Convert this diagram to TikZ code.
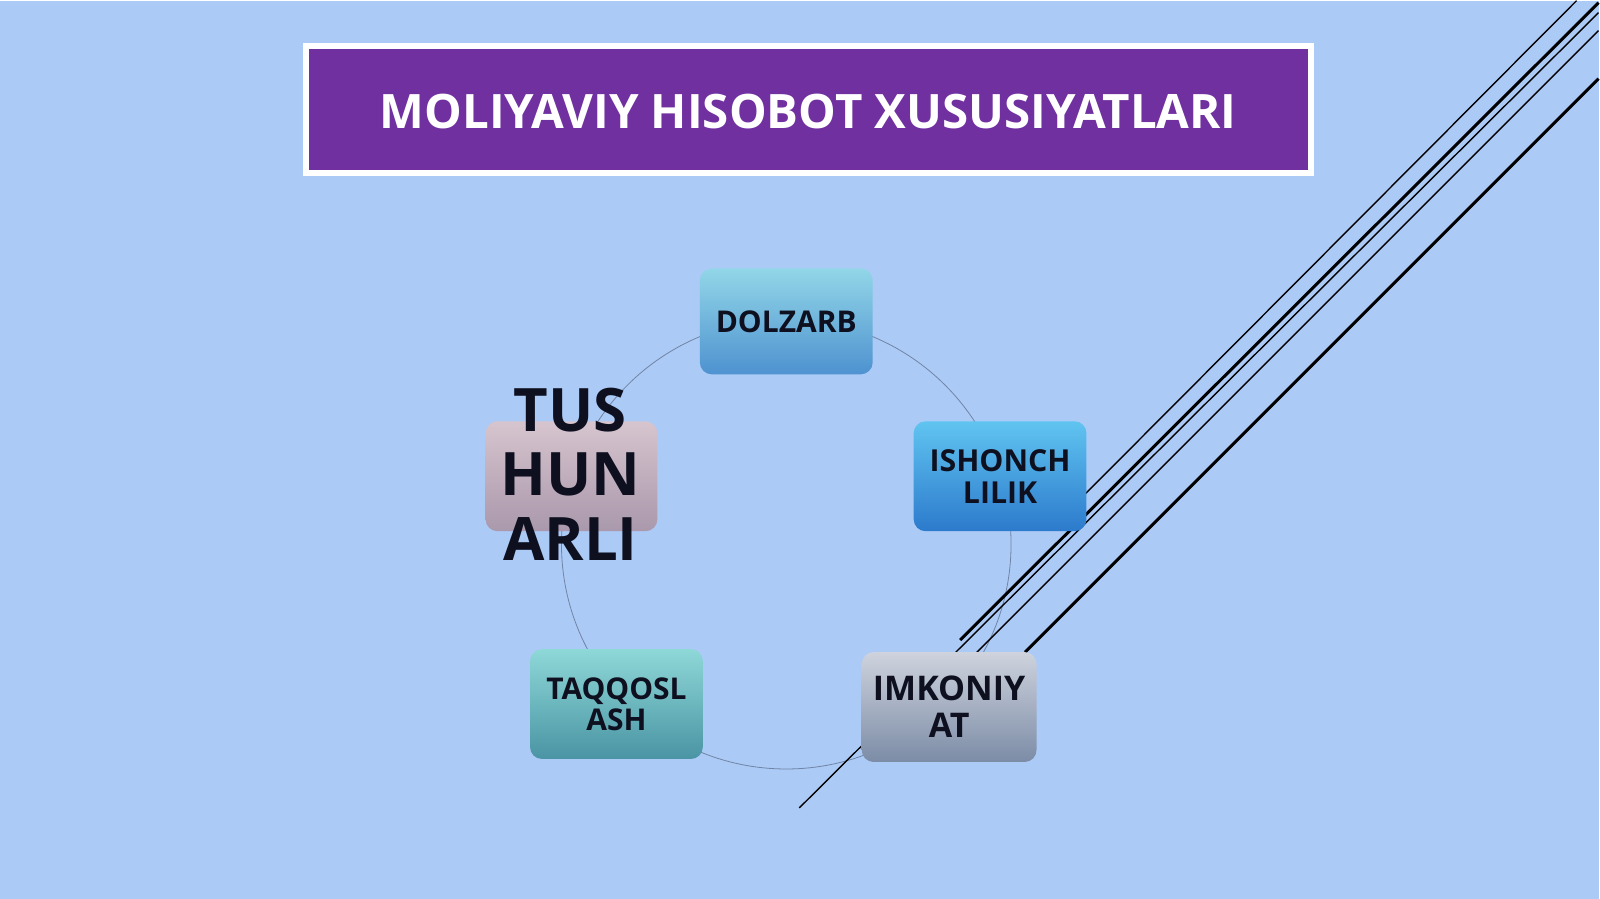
\documentclass[tikz,border=0pt]{standalone}
\usepackage{fontspec}
\setmainfont{Open Sans}
\usepackage{tikz}

\definecolor{bgblue}{RGB}{172,202,246}
\definecolor{titlepurple}{RGB}{112,48,160}
\definecolor{inkdark}{RGB}{14,16,32}
\definecolor{ringgrey}{RGB}{112,132,165}
\definecolor{dolTop}{RGB}{146,214,232}
\definecolor{dolBot}{RGB}{78,146,208}
\definecolor{ishTop}{RGB}{96,196,240}
\definecolor{ishBot}{RGB}{44,122,204}
\definecolor{imkTop}{RGB}{206,211,221}
\definecolor{imkBot}{RGB}{124,140,166}
\definecolor{taqTop}{RGB}{142,216,216}
\definecolor{taqBot}{RGB}{74,148,164}
\definecolor{tusTop}{RGB}{214,196,206}
\definecolor{tusBot}{RGB}{170,152,172}

\begin{document}
\begin{tikzpicture}[x=1pt,y=-1pt,
		tile/.style={rounded corners=12pt,minimum width=173pt,minimum height=110pt,inner sep=0pt,align=center,text=inkdark},
		thinrule/.style={black,line width=1.4pt},
		thickrule/.style={black,line width=3pt}]
		\fill[bgblue] (0,0) rectangle (1600,899);
		% title bar
		\draw[white,line width=6pt,fill=titlepurple] (306,45) rectangle (1312,172);
		\node[text=white,font=\fontsize{47.5}{52}\selectfont\bfseries] (title) at (809,111) {MOLIYAVIY HISOBOT XUSUSIYATLARI};
		% ring behind the tiles
		\draw[ringgrey,line width=0.8pt] (787,544) circle[radius=225pt];
		% diagonal rules
		\draw[thinrule] (1578,0) -- (1084,496);
		\draw[thickrule] (1600,2) -- (961,640);
		\draw[thinrule] (1600,12) -- (800,808);
		\draw[thinrule] (1600,30) -- (977,653);
		\draw[thickrule] (1600,78) -- (1026,652);
		% tiles
		\node[tile,font=\fontsize{30}{32}\selectfont\bfseries,minimum height=106pt,top color=dolTop,bottom color=dolBot] (dolzarb) at (787,321) {DOLZARB};
		\node[tile,font=\fontsize{30.3}{32}\selectfont\bfseries,top color=ishTop,bottom color=ishBot] (ishonch) at (1001,476) {ISHONCH\\LILIK};
		\node[tile,minimum width=175pt,font=\fontsize{34}{37}\selectfont\bfseries,top color=imkTop,bottom color=imkBot] (imkon) at (950,707) {IMKONIY\\AT};
		\node[tile,font=\fontsize{30}{31}\selectfont\bfseries,top color=taqTop,bottom color=taqBot] (taqqos) at (617,704) {TAQQOSL\\ASH};
		\node[tile,minimum width=172pt,top color=tusTop,bottom color=tusBot] (tushun) at (572,476) {};
		\node[text=inkdark,align=center,font=\fontsize{60}{65}\selectfont\bfseries] (tushuntxt) at (571,474) {TUS\\HUN\\ARLI};
	\end{tikzpicture}
\end{document}
